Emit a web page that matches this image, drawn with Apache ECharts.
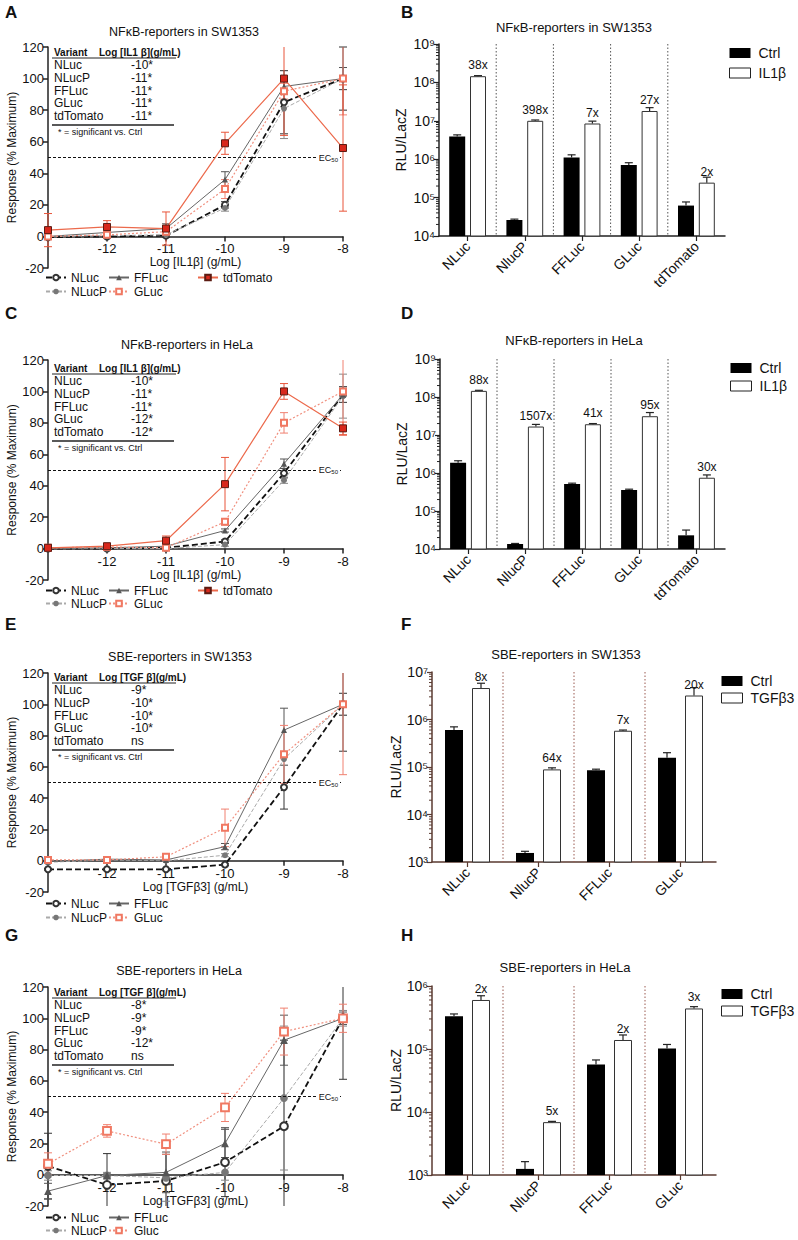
<!DOCTYPE html>
<html><head><meta charset="utf-8">
<script src="https://cdn.jsdelivr.net/npm/echarts@6/dist/echarts.min.js"></script>
<style>html,body{margin:0;padding:0;background:#fff}#c{width:798px;height:1240px}</style>
</head><body><div id="c"></div>
<script>
const FONT = '"Liberation Sans", Arial, sans-serif';

// ---------- shared ----------
const logDose = [-13, -12, -11, -10, -9, -8];
const tableNames = ['NLuc', 'NLucP', 'FFLuc', 'GLuc', 'tdTomato'];
const cats5 = ['NLuc', 'NlucP', 'FFLuc', 'GLuc', 'tdTomato'];
const cats4 = ['NLuc', 'NlucP', 'FFLuc', 'GLuc'];

// ---------- Panel A: NFκB-reporters in SW1353 ----------
const A_NLuc = [-0.5, 0, 0.5, 20, 85, 100];
const A_NLuc_err = [1, 1, 1, 2, 20, 20];
const A_NLucP = [0, 0.5, 1, 18, 81, 100];
const A_NLucP_err = [1, 1, 1, 2, 19, 7];
const A_FFLuc = [0, 2.5, 5, 36, 95, 100];
const A_FFLuc_err = [1, 1, 3, 5, 3, 7];
const A_GLuc = [0, 1, 3, 30, 92, 100];
const A_GLuc_err = [1, 1, 2, 6, 5, 23];
const A_tdTomato = [4, 6, 5, 59, 100, 56];
const A_tdTomato_err = [10.5, 4, 10.5, 7, 36, 40];
const A_table = ['-10*', '-11*', '-11*', '-11*', '-11*'];

// ---------- Panel C: NFκB-reporters in HeLa ----------
const C_NLuc = [0, 0, 0.5, 4.5, 48, 98];
const C_NLuc_err = [0.5, 0.5, 0.5, 1, 3, 5];
const C_NLucP = [0, 0, 0, 2.5, 43.5, 97];
const C_NLucP_err = [0.5, 0.5, 0.5, 1, 2, 14];
const C_FFLuc = [0, 0.5, 1.5, 11.5, 54, 98];
const C_FFLuc_err = [0.5, 0.5, 0.5, 1, 3, 5];
const C_GLuc = [0.5, 1, 0.5, 17, 80, 100];
const C_GLuc_err = [0.5, 0.5, 0.5, 2, 6.5, 28];
const C_tdTomato = [0.5, 1.5, 5, 41, 100, 76.5];
const C_tdTomato_err = [0.5, 1, 3, 17, 5, 4];
const C_table = ['-10*', '-11*', '-11*', '-12*', '-12*'];

// ---------- Panel E: SBE-reporters in SW1353 ----------
const E_NLuc = [-5.5, -5.5, -5.5, -2.5, 47, 100];
const E_NLuc_err = [0.5, 0.5, 0.5, 0.5, 14, 30];
const E_NLucP = [-1, 0.5, 0, 3.5, 65, 100];
const E_NLucP_err = [0.5, 1, 0.5, 1, 4, 7];
const E_FFLuc = [-0.5, 1, 0.5, 9, 83.5, 100];
const E_FFLuc_err = [0.5, 0.5, 0.5, 2, 14, 7];
const E_GLuc = [0.5, 0.5, 2.5, 21, 68, 100];
const E_GLuc_err = [0.5, 0.5, 1, 12, 18.5, 45];
const E_table = ['-9*', '-10*', '-10*', '-10*', 'ns'];

// ---------- Panel G: SBE-reporters in HeLa ----------
const G_NLuc = [5.5, -6.5, -4, 8, 31, 100];
const G_NLuc_err = [21, 20, 17, 22, 55, 39];
const G_NLucP = [-0.5, -0.5, -2, 1.5, 49, 100];
const G_NLucP_err = [3, 2, 15, 5, 46, 5];
const G_FFLuc = [-10.5, -0.5, 1.5, 20, 86, 100];
const G_FFLuc_err = [5, 1, 13, 9, 16, 4];
const G_Gluc = [7, 28, 19.5, 43, 91.5, 100];
const G_Gluc_err = [7, 4, 6.5, 9, 15, 9];
const G_table = ['-8*', '-9*', '-9*', '-12*', 'ns'];

// ---------- Panel B: NFκB-reporters in SW1353 (bars) ----------
const B_ctrl = [3.9e6, 2.6e4, 1.1e6, 7.1e5, 6.2e4];
const B_ctrl_errTop = [4.3e6, 2.75e4, 1.3e6, 8.1e5, 7.7e4];
const B_il1b = [1.45e8, 1.0e7, 8.5e6, 1.8e7, 2.45e5];
const B_il1b_errTop = [1.5e8, 1.05e7, 9.8e6, 2.2e7, 3.4e5];
const B_fold = ['38x', '398x', '7x', '27x', '2x'];

// ---------- Panel D: NFκB-reporters in HeLa (bars) ----------
const D_ctrl = [1.85e6, 1.35e4, 5.1e5, 3.55e5, 2.29e4];
const D_ctrl_errTop = [2.1e6, 1.4e4, 5.4e5, 3.75e5, 3.15e4];
const D_il1b = [1.45e8, 1.67e7, 1.92e7, 3.12e7, 7.5e5];
const D_il1b_errTop = [1.5e8, 1.9e7, 2.0e7, 3.9e7, 8.9e5];
const D_fold = ['88x', '1507x', '41x', '95x', '30x'];

// ---------- Panel F: SBE-reporters in SW1353 (bars) ----------
const F_ctrl = [6.0e5, 1.55e3, 8.5e4, 1.57e5];
const F_ctrl_errTop = [7.0e5, 1.68e3, 9.0e4, 2.0e5];
const F_tgf = [4.6e6, 8.9e4, 5.8e5, 3.2e6];
const F_tgf_errTop = [5.8e6, 9.6e4, 6.0e5, 4.7e6];
const F_fold = ['8x', '64x', '7x', '20x'];

// ---------- Panel H: SBE-reporters in HeLa (bars) ----------
const H_ctrl = [3.3e5, 1.25e3, 5.7e4, 1.02e5];
const H_ctrl_errTop = [3.6e5, 1.63e3, 6.7e4, 1.18e5];
const H_tgf = [6.0e5, 6.9e3, 1.39e5, 4.4e5];
const H_tgf_errTop = [7.0e5, 7.1e3, 1.67e5, 4.7e5];
const H_fold = ['2x', '5x', '2x', '3x'];

// ---------- styles ----------
const STYLE = {
  NLuc:     {symbol: 'emptyCircle', size: 6, item: {color: '#333', borderWidth: 1}, line: {color: '#111', type: [6, 3], width: 1.8}, err: '#333'},
  NLucP:    {symbol: 'circle', size: 6, item: {color: '#777'}, line: {color: '#aaa', type: [4, 2], width: 1}, err: '#888'},
  FFLuc:    {symbol: 'triangle', size: 6, item: {color: '#555'}, line: {color: '#666', type: 'solid', width: 1}, err: '#555'},
  GLuc:     {symbol: 'emptyRect', size: 6, item: {color: '#f07862', borderWidth: 1}, line: {color: '#f0907f', type: [2, 2], width: 1.2}, err: '#f08070'},
  tdTomato: {symbol: 'rect', size: 7, item: {color: '#d8281c', borderColor: '#5b1b12', borderWidth: 1}, line: {color: '#ec6a4c', type: 'solid', width: 1.2}, err: '#e8553a'}
};
const AXC = '#222';
const SUP = {'0':'⁰','1':'¹','2':'²','3':'³','4':'⁴','5':'⁵','6':'⁶','7':'⁷','8':'⁸','9':'⁹'};
const Y_MIN = -20, Y_MAX = 120;

const option = {
  animation: false,
  backgroundColor: '#fff',
  textStyle: {fontFamily: FONT},
  title: [], grid: [], xAxis: [], yAxis: [], legend: [], series: [],
  graphic: {elements: []}
};

function txt(x, y, text, size, weight, extra) {
  return Object.assign({type: 'text', x: x, y: y, silent: true, z: 50,
    style: {text: text, fill: '#111', fontSize: size, fontWeight: weight || 'normal', fontFamily: FONT,
      verticalAlign: 'middle', textVerticalAlign: 'middle'}}, extra || {});
}
function hline(x1, x2, y, w) {
  return {type: 'line', silent: true, z: 50, shape: {x1: x1, y1: y, x2: x2, y2: y}, style: {stroke: '#222', lineWidth: w}};
}

function errSeries(gi, vals, errs, color) {
  return {
    type: 'custom', xAxisIndex: gi, yAxisIndex: gi, silent: true, z: 2,
    data: logDose.map((d, i) => [d, vals[i] - errs[i], vals[i] + errs[i]]),
    encode: {x: 0, y: [1, 2]},
    renderItem: function (params, api) {
      const x = api.value(0);
      const hi = api.coord([x, api.value(2)]);
      const lo = api.coord([x, api.value(1)]);
      const cs = params.coordSys;
      const top = Math.max(hi[1], cs.y), bot = Math.min(lo[1], cs.y + cs.height);
      const st = {stroke: color, lineWidth: 1};
      const ch = [{type: 'line', shape: {x1: hi[0], y1: top, x2: hi[0], y2: bot}, style: st}];
      if (hi[1] >= cs.y) ch.push({type: 'line', shape: {x1: hi[0] - 4, y1: hi[1], x2: hi[0] + 4, y2: hi[1]}, style: st});
      if (lo[1] <= cs.y + cs.height) ch.push({type: 'line', shape: {x1: lo[0] - 4, y1: lo[1], x2: lo[0] + 4, y2: lo[1]}, style: st});
      return {type: 'group', children: ch};
    }
  };
}

function addLinePanel(cfg) {
  const gi = option.grid.length;
  option.grid.push({left: 48, top: cfg.top, width: 295, height: cfg.height});
  // x axis drawn on the y = 0 line (shift up from bottom by the share of the range below zero)
  const zeroShift = -cfg.height * (0 - Y_MIN) / (Y_MAX - Y_MIN);
  option.xAxis.push({gridIndex: gi, type: 'value', min: -13, max: -8, interval: 1, position: 'bottom', offset: zeroShift,
    name: cfg.xName, nameLocation: 'middle', nameGap: 20, nameTextStyle: {fontSize: 12, color: '#111'},
    axisLine: {show: true, onZero: false, lineStyle: {color: AXC, width: 1.5}},
    axisTick: {show: true, length: 5, lineStyle: {color: AXC, width: 1.5}},
    axisLabel: {fontSize: 13, color: '#111', margin: 6, showMinLabel: false},
    splitLine: {show: false}});
  option.yAxis.push({gridIndex: gi, type: 'value', min: Y_MIN, max: Y_MAX, interval: 20,
    name: 'Response (% Maximum)', nameLocation: 'middle', nameGap: 26, nameTextStyle: {fontSize: 12, color: '#111'},
    axisLine: {show: true, onZero: false, lineStyle: {color: AXC, width: 1.5}},
    axisTick: {show: true, length: 5, lineStyle: {color: AXC, width: 1.5}},
    axisLabel: {fontSize: 13, color: '#111', margin: 4},
    splitLine: {show: false}});
  const ec50 = {silent: true, symbol: ['none', 'none'],
    lineStyle: {color: '#111', type: [3, 2], width: 1.2},
    label: {show: true, position: 'insideEnd', formatter: 'EC{s|50}', fontSize: 9, color: '#111',
      backgroundColor: '#fff', padding: [1, 2], distance: 3,
      rich: {s: {fontSize: 6, verticalAlign: 'bottom', padding: [4, 0, 0, 0]}}},
    data: [{yAxis: 50}]};
  cfg.series.forEach((s, k) => {
    const st = STYLE[s.style];
    option.series.push({type: 'line', name: s.name, xAxisIndex: gi, yAxisIndex: gi, silent: true,
      data: logDose.map((d, i) => [d, s.values[i]]),
      symbol: st.symbol, symbolSize: st.size * (cfg.symScale || 1), showSymbol: true,
      itemStyle: st.item, lineStyle: st.line, z: 3 + k,
      markLine: k === 0 ? ec50 : undefined});
    option.series.push(errSeries(gi, s.values, s.err, st.err));
  });
  cfg.legendCols.forEach(col => {
    option.legend.push({left: col.left, top: cfg.legTop, orient: 'vertical', itemWidth: 20, itemHeight: 7,
      itemGap: cfg.legGap, padding: 0, selectedMode: false, data: col.names,
      textStyle: {fontSize: 12, color: '#111', lineHeight: 13}});
  });
  option.title.push({text: cfg.title, left: cfg.titleX, top: cfg.titleY, textAlign: 'center', padding: 0,
    textStyle: {fontSize: 12.5, fontWeight: 'normal', color: '#111'}});
  const t = cfg.tableTop, g = option.graphic.elements;
  g.push(txt(54, t, 'Variant', 10, 'bold'));
  g.push(txt(99, t, cfg.tableHeader, 10, 'bold'));
  g.push(hline(52, 176, t + 6, 1));
  tableNames.forEach((n, i) => {
    g.push(txt(54, t + 13 + i * 12.75, n, 12));
    g.push(txt(131, t + 13 + i * 12.75, cfg.tableVals[i], 12));
  });
  g.push(hline(52, 174, t + 73, 1.5));
  g.push(txt(58, t + 80, '* = significant vs. Ctrl', 9));
}

function addBarPanel(cfg) {
  const gi = option.grid.length;
  const gapRatio = cfg.barGap;
  option.grid.push({left: cfg.left, top: cfg.top, width: cfg.width, height: cfg.height});
  option.xAxis.push({gridIndex: gi, type: 'category', data: cfg.cats,
    axisLine: {show: true, lineStyle: {color: cfg.axisColor, width: 1.5}},
    axisTick: {show: true, alignWithLabel: true, length: 5, lineStyle: {color: cfg.axisColor, width: 1.2}},
    axisLabel: {rotate: 45, fontSize: 14, color: '#111', margin: 8, interval: 0},
    splitLine: {show: false}});
  option.yAxis.push({gridIndex: gi, type: 'log', logBase: 10, min: cfg.min, max: cfg.max, splitNumber: cfg.decades,
    name: 'RLU/LacZ', nameLocation: 'middle', nameGap: cfg.nameGap, nameTextStyle: {fontSize: 14, color: '#111'},
    axisLine: {show: true, lineStyle: {color: cfg.axisColor, width: 1.5}},
    axisTick: {show: true, length: 5, lineStyle: {color: cfg.axisColor, width: 1.2}},
    axisLabel: {fontSize: 14, color: '#111', margin: 4,
      formatter: v => '10' + String(Math.round(Math.log10(v))).split('').map(c => SUP[c]).join('')},
    splitLine: {show: false}});
  option.series.push({type: 'bar', name: 'Ctrl', xAxisIndex: gi, yAxisIndex: gi, silent: true,
    data: cfg.ctrl, barWidth: cfg.barWidth, itemStyle: {color: '#000'}, clip: true});
  option.series.push({type: 'bar', name: cfg.treatName, xAxisIndex: gi, yAxisIndex: gi, silent: true,
    data: cfg.treat, barWidth: cfg.barWidth, barGap: (gapRatio * 100) + '%', clip: true,
    itemStyle: {color: '#fff', borderColor: '#333', borderWidth: 1},
    label: {show: true, position: 'top', distance: 5, fontSize: 12, color: '#111',
      formatter: p => cfg.fold[p.dataIndex]}});
  const off = (cfg.barWidth + cfg.barWidth * gapRatio) / 2;
  [[cfg.ctrl, cfg.ctrlErr, -off], [cfg.treat, cfg.treatErr, off]].forEach(([vals, tops, o]) => {
    option.series.push({type: 'custom', xAxisIndex: gi, yAxisIndex: gi, silent: true, z: 5,
      data: vals.map((v, i) => [i, v, tops[i]]), encode: {x: 0, y: [1, 2]},
      renderItem: function (params, api) {
        const b = api.coord([api.value(0), api.value(1)]);
        const tp = api.coord([api.value(0), api.value(2)]);
        const x = b[0] + o, st = {stroke: '#222', lineWidth: 1.2};
        return {type: 'group', children: [
          {type: 'line', shape: {x1: x, y1: b[1], x2: x, y2: tp[1]}, style: st},
          {type: 'line', shape: {x1: x - 4, y1: tp[1], x2: x + 4, y2: tp[1]}, style: st}]};
      }});
  });
  option.series.push({type: 'custom', xAxisIndex: gi, yAxisIndex: gi, silent: true, z: 1,
    data: cfg.cats.slice(1).map((c, i) => [i + 1, cfg.min]), encode: {x: 0, y: 1},
    renderItem: function (params, api) {
      const a = api.coord([api.value(0) - 1, cfg.min]), b = api.coord([api.value(0), cfg.min]);
      const x = (a[0] + b[0]) / 2, cs = params.coordSys;
      return {type: 'line', shape: {x1: x, y1: cs.y, x2: x, y2: cs.y + cs.height},
        style: {stroke: cfg.sepColor, lineWidth: 1, lineDash: [1.5, 2]}};
    }});
  const minor = [];
  const e0 = Math.round(Math.log10(cfg.min)), e1 = Math.round(Math.log10(cfg.max));
  for (let e = e0; e < e1; e++) for (let m = 2; m <= 9; m++) minor.push([0, m * Math.pow(10, e)]);
  option.series.push({type: 'custom', xAxisIndex: gi, yAxisIndex: gi, silent: true, z: 1,
    data: minor, encode: {x: 0, y: 1},
    renderItem: function (params, api) {
      const p = api.coord([0, api.value(1)]), x = params.coordSys.x;
      return {type: 'line', shape: {x1: x - 3, y1: p[1], x2: x, y2: p[1]}, style: {stroke: cfg.axisColor, lineWidth: 1}};
    }});
  option.legend.push({left: cfg.legLeft, top: cfg.legTop, orient: 'vertical', itemWidth: 21, itemHeight: 10,
    itemGap: cfg.legGap, icon: 'rect', selectedMode: false, padding: 0,
    textStyle: {fontSize: 14, color: '#111', lineHeight: 14, padding: [0, 0, 0, 3]},
    data: [{name: 'Ctrl', itemStyle: {color: '#000'}},
      {name: cfg.treatName, itemStyle: {color: '#fff', borderColor: '#222', borderWidth: 1}}]});
  option.title.push({text: cfg.title, left: cfg.titleX, top: cfg.titleY, textAlign: 'center', padding: 0,
    textStyle: {fontSize: 13, fontWeight: 'normal', color: '#111'}});
}

// ---------- build panels ----------
addLinePanel({top: 47, height: 221, title: 'NFκB-reporters in SW1353', titleX: 184, titleY: 25,
  xName: 'Log [IL1β] (g/mL)', tableTop: 52, tableHeader: 'Log [IL1 β](g/mL)', tableVals: A_table,
  legTop: 271, legGap: 1,
  legendCols: [{left: 45, names: ['NLuc', 'NLucP']}, {left: 108, names: ['FFLuc', 'GLuc']}, {left: 197, names: ['tdTomato']}],
  series: [
    {name: 'NLuc', style: 'NLuc', values: A_NLuc, err: A_NLuc_err},
    {name: 'NLucP', style: 'NLucP', values: A_NLucP, err: A_NLucP_err},
    {name: 'FFLuc', style: 'FFLuc', values: A_FFLuc, err: A_FFLuc_err},
    {name: 'GLuc', style: 'GLuc', values: A_GLuc, err: A_GLuc_err},
    {name: 'tdTomato', style: 'tdTomato', values: A_tdTomato, err: A_tdTomato_err}]});

addLinePanel({top: 360, height: 220, title: 'NFκB-reporters in HeLa', titleX: 187, titleY: 338,
  xName: 'Log [IL1β] (g/mL)', tableTop: 368, tableHeader: 'Log [IL1 β](g/mL)', tableVals: C_table,
  legTop: 584, legGap: 0,
  legendCols: [{left: 45, names: ['NLuc', 'NLucP']}, {left: 108, names: ['FFLuc', 'GLuc']}, {left: 197, names: ['tdTomato']}],
  series: [
    {name: 'NLuc', style: 'NLuc', values: C_NLuc, err: C_NLuc_err},
    {name: 'NLucP', style: 'NLucP', values: C_NLucP, err: C_NLucP_err},
    {name: 'FFLuc', style: 'FFLuc', values: C_FFLuc, err: C_FFLuc_err},
    {name: 'GLuc', style: 'GLuc', values: C_GLuc, err: C_GLuc_err},
    {name: 'tdTomato', style: 'tdTomato', values: C_tdTomato, err: C_tdTomato_err}]});

addLinePanel({top: 673, height: 219, title: 'SBE-reporters in SW1353', titleX: 180, titleY: 650,
  xName: 'Log [TGFβ3] (g/mL)', tableTop: 677, tableHeader: 'Log [TGF β](g/mL)', tableVals: E_table,
  legTop: 897, legGap: 1,
  legendCols: [{left: 45, names: ['NLuc', 'NLucP']}, {left: 108, names: ['FFLuc', 'GLuc']}],
  series: [
    {name: 'NLuc', style: 'NLuc', values: E_NLuc, err: E_NLuc_err},
    {name: 'NLucP', style: 'NLucP', values: E_NLucP, err: E_NLucP_err},
    {name: 'FFLuc', style: 'FFLuc', values: E_FFLuc, err: E_FFLuc_err},
    {name: 'GLuc', style: 'GLuc', values: E_GLuc, err: E_GLuc_err}]});

addLinePanel({top: 987, height: 219, title: 'SBE-reporters in HeLa', titleX: 179, titleY: 964, symScale: 1.3,
  xName: 'Log [TGFβ3] (g/mL)', tableTop: 992, tableHeader: 'Log [TGF β](g/mL)', tableVals: G_table,
  legTop: 1211, legGap: 0,
  legendCols: [{left: 45, names: ['NLuc', 'NLucP']}, {left: 108, names: ['FFLuc', 'Gluc']}],
  series: [
    {name: 'NLuc', style: 'NLuc', values: G_NLuc, err: G_NLuc_err},
    {name: 'NLucP', style: 'NLucP', values: G_NLucP, err: G_NLucP_err},
    {name: 'FFLuc', style: 'FFLuc', values: G_FFLuc, err: G_FFLuc_err},
    {name: 'Gluc', style: 'GLuc', values: G_Gluc, err: G_Gluc_err}]});

addBarPanel({left: 439, top: 44, width: 286, height: 192, min: 1e4, max: 1e9, decades: 5,
  cats: cats5, ctrl: B_ctrl, ctrlErr: B_ctrl_errTop, treat: B_il1b, treatErr: B_il1b_errTop, fold: B_fold,
  treatName: 'IL1β', barWidth: 16, barGap: 0.3, nameGap: 31, axisColor: '#222', sepColor: '#555',
  legLeft: 729, legTop: 46, legGap: 6, title: 'NFκB-reporters in SW1353', titleX: 574, titleY: 21});

addBarPanel({left: 440, top: 359, width: 285, height: 190, min: 1e4, max: 1e9, decades: 5,
  cats: cats5, ctrl: D_ctrl, ctrlErr: D_ctrl_errTop, treat: D_il1b, treatErr: D_il1b_errTop, fold: D_fold,
  treatName: 'IL1β', barWidth: 16, barGap: 0.3, nameGap: 31, axisColor: '#222', sepColor: '#555',
  legLeft: 730, legTop: 361, legGap: 4, title: 'NFκB-reporters in HeLa', titleX: 574, titleY: 334});

addBarPanel({left: 432, top: 672, width: 284, height: 190, min: 1e3, max: 1e7, decades: 4,
  cats: cats4, ctrl: F_ctrl, ctrlErr: F_ctrl_errTop, treat: F_tgf, treatErr: F_tgf_errTop, fold: F_fold,
  treatName: 'TGFβ3', barWidth: 18, barGap: 0.5, nameGap: 27, axisColor: '#5a3a30', sepColor: '#9a5a50',
  legLeft: 721, legTop: 674, legGap: 3, title: 'SBE-reporters in SW1353', titleX: 566, titleY: 648});

addBarPanel({left: 432, top: 986, width: 284, height: 189, min: 1e3, max: 1e6, decades: 3,
  cats: cats4, ctrl: H_ctrl, ctrlErr: H_ctrl_errTop, treat: H_tgf, treatErr: H_tgf_errTop, fold: H_fold,
  treatName: 'TGFβ3', barWidth: 18, barGap: 0.5, nameGap: 27, axisColor: '#5a3a30', sepColor: '#9a5a50',
  legLeft: 721, legTop: 987, legGap: 3, title: 'SBE-reporters in HeLa', titleX: 565, titleY: 961});

[['A', 5, 12], ['B', 401, 12], ['C', 5, 313], ['D', 401, 313], ['E', 5, 624], ['F', 401, 624], ['G', 5, 935], ['H', 401, 935]]
  .forEach(([l, x, y]) => option.graphic.elements.push(txt(x, y, l, 17, 'bold')));

const chart = echarts.init(document.getElementById('c'), null, {renderer: 'svg', width: 798, height: 1240});
chart.setOption(option);
</script>
</body></html>
